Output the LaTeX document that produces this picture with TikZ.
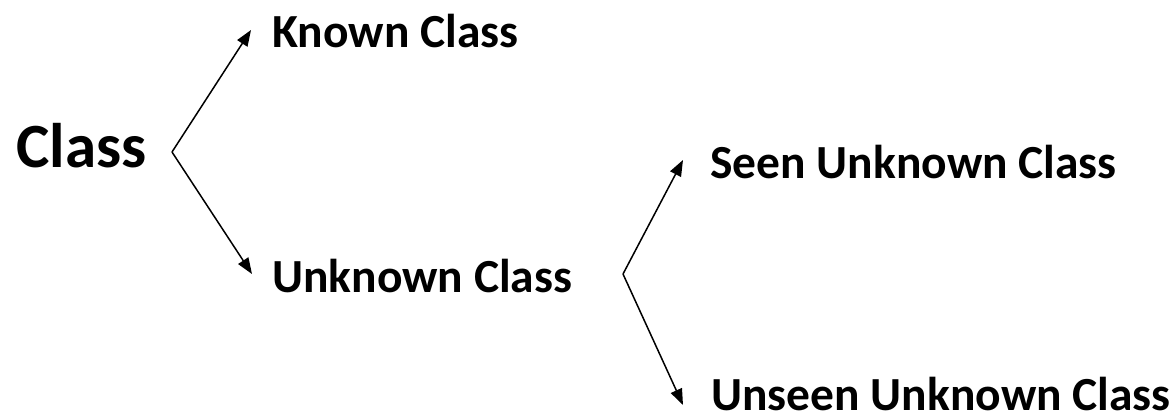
\documentclass[tikz,border=0pt]{standalone}
\usepackage{fontspec}
\setmainfont{Carlito}
\usetikzlibrary{arrows.meta}
\begin{document}
\begin{tikzpicture}[x=1pt,y=-1pt,
  lbl/.style={font=\bfseries\fontsize{47.5}{50}\selectfont, anchor=base west, inner sep=0pt, text depth=0pt},
  big/.style={font=\bfseries\fontsize{63}{66}\selectfont, anchor=base west, inner sep=0pt, text depth=0pt},
  arr/.style={line width=1.5pt, -{Triangle[length=16pt,width=12pt]}}]
\useasboundingbox (0,0) rectangle (1176,413);
\node[big] (class) at (16,167) {Class};
\node[lbl] (known) at (272,47) {Known Class};
\node[lbl] (unknown) at (272,292) {Unknown Class};
\node[lbl] (seen) at (710,178) {Seen Unknown Class};
\node[lbl] (unseen) at (711,410) {Unseen Unknown Class};
\coordinate (v1) at (172,152);
\coordinate (t1) at (251,30);
\coordinate (b1) at (252,274);
\coordinate (v2) at (623,274);
\coordinate (t2) at (683,160);
\coordinate (b2) at (683,405);
\draw[arr] (v1) -- (t1);
\draw[arr] (v1) -- (b1);
\draw[arr] (v2) -- (t2);
\draw[arr] (v2) -- (b2);
\end{tikzpicture}
\end{document}
